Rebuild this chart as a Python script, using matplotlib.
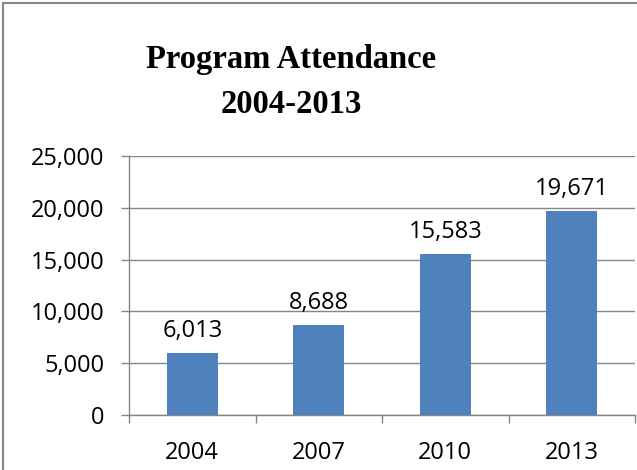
import matplotlib.pyplot as plt
from matplotlib.patches import Rectangle
from matplotlib.ticker import FuncFormatter

years = ["2004", "2007", "2010", "2013"]
attendance = [6013, 8688, 15583, 19671]
yticks = [0, 5000, 10000, 15000, 20000, 25000]

grey = "#868686"
bar_color = "#4F81BD"
lab_font = "Open Sans"
fs = 17

fig = plt.figure(figsize=(6.37, 4.70), dpi=100)
ax = fig.add_axes([129 / 637, 55 / 470, 506 / 637, 259 / 470])

x = list(range(len(years)))
ax.bar(x, attendance, width=0.4, color=bar_color, zorder=3)
for xi, v in zip(x, attendance):
    ax.annotate(f"{v:,}", (xi, v), xytext=(0, 7), textcoords="offset points",
                ha="center", va="bottom", fontsize=fs, family=lab_font)

ax.set_xlim(-0.5, len(years) - 0.5)
ax.set_ylim(0, 25000)
ax.set_yticks(yticks)
ax.yaxis.set_major_formatter(FuncFormatter(lambda v, p: f"{int(v):,}"))
ax.grid(axis="y", color=grey, linewidth=1, zorder=0)

ax.set_xticks(x)
ax.set_xticklabels(years)
ax.set_xticks([i - 0.5 for i in range(len(years) + 1)], minor=True)
ax.tick_params(axis="x", which="major", length=0, pad=19, labelsize=fs)
ax.tick_params(axis="x", which="minor", length=6, color=grey, width=1)
ax.tick_params(axis="y", length=6, color=grey, width=1, pad=11.5, labelsize=fs)
for lab in ax.get_xticklabels() + ax.get_yticklabels():
    lab.set_family(lab_font)

for s in ["top", "right"]:
    ax.spines[s].set_visible(False)
for s in ["left", "bottom"]:
    ax.spines[s].set_color(grey)
    ax.spines[s].set_linewidth(1)

cx = 291 / 637
fig.text(cx, 1 - 68 / 470, "Program Attendance", ha="center", va="baseline",
         fontsize=23.5, fontweight="bold", family="Liberation Serif")
fig.text(cx, 1 - 113 / 470, "2004-2013", ha="center", va="baseline",
         fontsize=23.5, fontweight="bold", family="Liberation Serif")

fig.patches.append(Rectangle((2.5 / 637, -0.1), 1.2, 1 - 2.5 / 470 + 0.1,
                             transform=fig.transFigure, fill=False,
                             edgecolor=grey, linewidth=1.5))

fig.savefig("out.png", dpi=100)
